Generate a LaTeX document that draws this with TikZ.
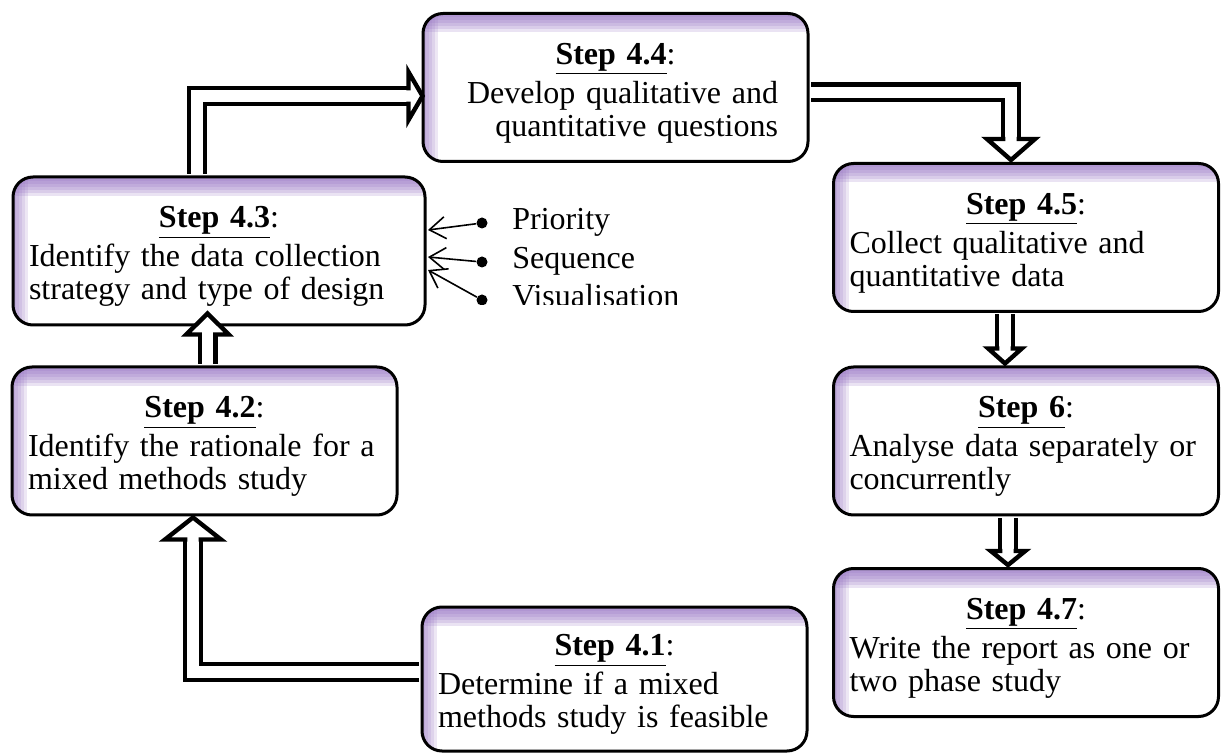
\documentclass[tikz,border=0pt]{standalone}
\usepackage{fontspec}
\setmainfont{Liberation Serif}
\usepackage{tikz}
\usetikzlibrary{arrows.meta}

\definecolor{glow}{RGB}{150,115,195}

\newcommand{\steptitle}[1]{{\centering\rule{0pt}{1em}\textbf{\underline{Step #1}}:\par}\vspace{2pt}}
\newcommand{\hhead}[4]{%
  \begin{scope}[shift={(#1)}, rotate=#2]
    \filldraw[fill=white, line width=2.2pt] (-#3,2.8pt) -- (-#3,#4) -- (0,0) -- (-#3,-#4) -- (-#3,-2.8pt);
  \end{scope}}

\begin{document}
\begin{tikzpicture}[x=0.5pt, y=-0.5pt,
    box/.style={rectangle, rounded corners=10pt, draw, line width=1.5pt, fill=white,
        minimum width=192.5pt, minimum height=74pt, text width=176.5pt, inner xsep=8pt,
        align=left, font=\fontsize{16}{16.5}\selectfont,
        path picture={
            \foreach \d in {2,3.5,5,6.5,8,9.5} {
                \fill[glow, sharp corners, opacity=0.2] (path picture bounding box.north west) rectangle ([yshift=-\d pt]path picture bounding box.north east);
            }
            \foreach \d in {1.5,3,4.5,6,7.5} {
                \fill[glow, sharp corners, opacity=0.17] (path picture bounding box.north west) rectangle ([xshift=\d pt]path picture bounding box.south west);
            }
        }},
    wide/.style={minimum width=206pt, text width=190pt},
    hollow/.style={draw, line width=2.2pt, double=white, double distance=5.6pt},
    pointer/.style={line width=0.8pt, -{Straight Barb[length=8pt,width=11pt]}},
    dot/.style={circle, fill=black, inner sep=0pt, minimum size=5.5pt},
    item/.style={anchor=base west, inner sep=0pt, font=\fontsize{16}{16.5}\selectfont}
]
    \useasboundingbox (0,0) rectangle (1221,753);

    % Left column
    \node[box, wide] (s43) at (219,251) {\steptitle{4.3}Identify the data collection\\strategy and type of design};
    \node[box] (s42) at (204.5,441) {\steptitle{4.2}Identify the rationale for a\\mixed methods study};

    % Middle
    \node[box] (s44) at (615.5,87.5) {\steptitle{4.4}{\raggedleft\rightskip=7pt Develop qualitative and\\quantitative questions\par}};
    \node[box, minimum height=72pt] (s41) at (614.5,679) {\steptitle{4.1}Determine if a mixed\\methods study is feasible};

    % Right column
    \node[box] (s45) at (1026,237.5) {\steptitle{4.5}Collect qualitative and\\quantitative data};
    \node[box] (s6) at (1026,441) {\steptitle{6}Analyse data separately or\\concurrently};
    \node[box] (s47) at (1026,642.5) {\steptitle{4.7}Write the report as one or\\two phase study};

    % Design choices
    \begin{scope}
        \clip (470,200) rectangle (720,305);
        \node[dot] (pri) at (482,223) {};
        \node[dot] (seq) at (482,262) {};
        \node[dot] (vis) at (482,300) {};
        \node[item] (tpri) at (512,230) {Priority};
        \node[item] (tseq) at (512,268.5) {Sequence};
        \node[item] (tvis) at (512,307) {Visualisation};
    \end{scope}
    \draw[pointer] (pri) -- ([xshift=0.75pt, yshift=10.5pt]s43.east);
    \draw[pointer] (seq) -- ([xshift=0.75pt, yshift=-3pt]s43.east);
    \draw[pointer] (vis) -- ([xshift=0.75pt, yshift=-9.5pt]s43.east);

    % Arrows
    \draw[hollow] ([xshift=-0.75pt, yshift=3.5pt]s41.west) -| ([xshift=-5.75pt, yshift=-11.5pt]s42.south);
    \hhead{[xshift=-5.75pt, yshift=-0.5pt]s42.south}{90}{11pt}{14pt}

    \draw[hollow] ([xshift=1.5pt, yshift=0.75pt]s42.north) -- ([xshift=-5.75pt, yshift=-4pt]s43.south);
    \hhead{[xshift=-5.75pt, yshift=6.5pt]s43.south}{90}{10.5pt}{10.6pt}

    \draw[hollow] ([xshift=-11pt, yshift=0.75pt]s43.north) |- ([xshift=-6.5pt, yshift=-4.25pt]s44.west);
    \hhead{[xshift=0.5pt, yshift=-4.25pt]s44.west}{0}{7pt}{12pt}

    \draw[hollow] ([xshift=0.75pt, yshift=-2.5pt]s44.east) -| ([xshift=-7.5pt, yshift=11.5pt]s45.north);
    \hhead{[xshift=-7.5pt, yshift=1pt]s45.north}{-90}{10.5pt}{12pt}

    \draw[hollow] ([xshift=-10.5pt, yshift=-0.75pt]s45.south) -- ([xshift=-10.5pt, yshift=8.5pt]s6.north);
    \hhead{[xshift=-10.5pt, yshift=1pt]s6.north}{-90}{7.5pt}{8.4pt}

    \draw[hollow] ([xshift=-9pt, yshift=-0.75pt]s6.south) -- ([xshift=-9pt, yshift=8pt]s47.north);
    \hhead{[xshift=-9pt, yshift=1pt]s47.north}{-90}{7pt}{8.6pt}

\end{tikzpicture}
\end{document}
